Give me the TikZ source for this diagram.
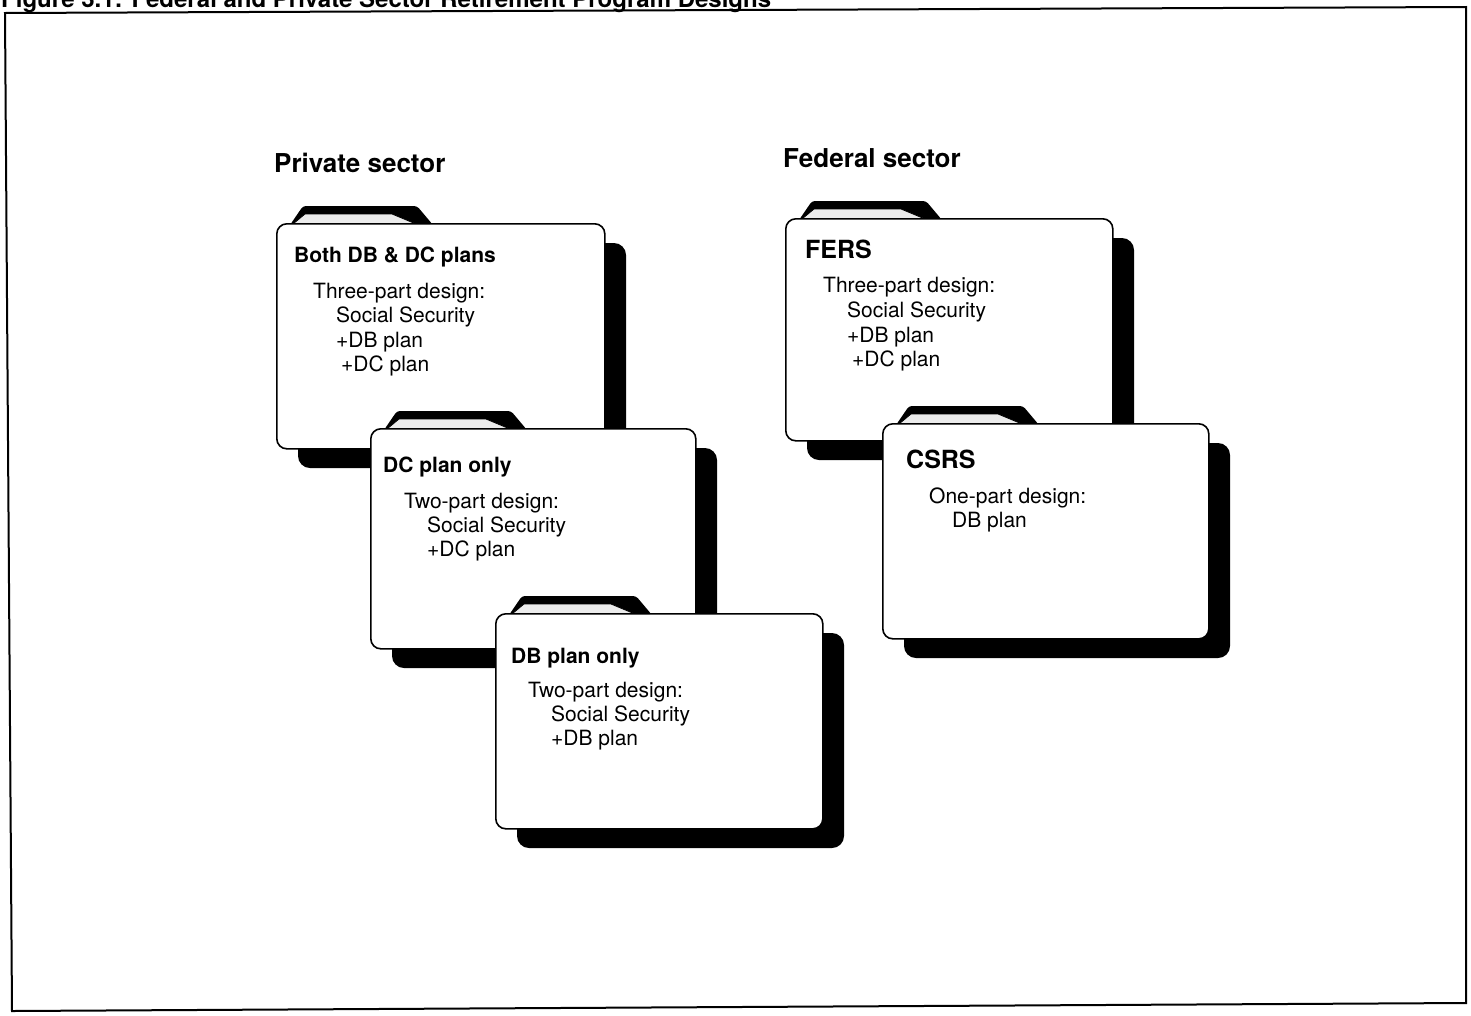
\documentclass[tikz,border=0pt]{standalone}
\usepackage{fontspec}
\setmainfont{TeX Gyre Heros}
\tikzset{
 shadowbox/.style={fill=black, rounded corners=12pt},
 bodybox/.style={draw=black, line width=1.6pt, fill=white, rounded corners=10pt},
 tabback/.style={fill=black, rounded corners=3pt},
 tabfront/.style={fill=gray!15, draw=black, line width=0.8pt},
 head/.style={anchor=base west, inner sep=0pt, font=\fontsize{21}{25}\selectfont\bfseries},
 bighead/.style={anchor=base west, inner sep=0pt, font=\fontsize{25}{30}\selectfont\bfseries},
 txt/.style={anchor=base west, inner sep=0pt, font=\fontsize{21}{25}\selectfont},
 sector/.style={anchor=base west, inner sep=0pt, font=\fontsize{26}{30}\selectfont\bfseries},
 frame/.style={draw=black, line width=2pt},
}
\newcommand\drawfolder[5]{%
 \fill[shadowbox] ({#2+22},{#3+20}) rectangle ({#2+#4+22},{#3+#5+20});
 \fill[tabback] ({#2+14},{#3+2}) -- ({#2+27},{#3-17}) -- ({#2+141},{#3-17}) -- ({#2+157},{#3+2}) -- cycle;
 \filldraw[tabfront] ({#2+17},{#3+1}) -- ({#2+29},{#3-9}) -- ({#2+116},{#3-9}) -- ({#2+140},{#3+1}) -- cycle;
 \node[bodybox, minimum width=#4pt, minimum height=#5pt, anchor=north west, inner sep=0pt] (#1) at (#2,#3) {};
}
\begin{document}
\begin{tikzpicture}[x=1pt,y=-1pt]
\useasboundingbox (0,0) rectangle (1471,1015);
\fill[white] (0,0) rectangle (1471,1015);
\node[anchor=base west, inner sep=0pt, font=\fontsize{24}{28}\selectfont\bfseries] (title) at (1,7.5) {Figure 3.1: Federal and Private Sector Retirement Program Designs};
\draw[frame] (5,13) -- (1466,7) -- (1466,1003) -- (12,1011) -- cycle;

\node[sector] (priv) at (274,172) {Private sector};
\node[sector] (fed) at (783,167) {Federal sector};

% Private sector folders
\drawfolder{both}{276}{223}{328}{225}
\node[head] (bothh) at (294,262) {Both DB \& DC plans};
\node[txt] (both1) at (313,298) {Three-part design:};
\node[txt] (both2) at (336,322) {Social Security};
\node[txt] (both3) at (336,347) {+DB plan};
\node[txt] (both4) at (341,371) {+DC plan};

\drawfolder{dc}{370}{428}{325}{220}
\node[head] (dch) at (383,472) {DC plan only};
\node[txt] (dc1) at (404,508) {Two-part design:};
\node[txt] (dc2) at (427,532) {Social Security};
\node[txt] (dc3) at (427,556) {+DC plan};

\drawfolder{db}{495}{613}{327}{215}
\node[head] (dbh) at (511,663) {DB plan only};
\node[txt] (db1) at (528,697) {Two-part design:};
\node[txt] (db2) at (551,721) {Social Security};
\node[txt] (db3) at (551,745) {+DB plan};

% Federal sector folders
\drawfolder{fers}{785}{218}{327}{222}
\node[bighead] (fersh) at (805,258) {FERS};
\node[txt] (fers1) at (823,292) {Three-part design:};
\node[txt] (fers2) at (847,317) {Social Security};
\node[txt] (fers3) at (847,342) {+DB plan};
\node[txt] (fers4) at (852,366) {+DC plan};

\drawfolder{csrs}{882}{423}{326}{215}
\node[bighead] (csrsh) at (906,468) {CSRS};
\node[txt] (csrs1) at (929,503) {One-part design:};
\node[txt] (csrs2) at (952,527) {DB plan};
\end{tikzpicture}
\end{document}
